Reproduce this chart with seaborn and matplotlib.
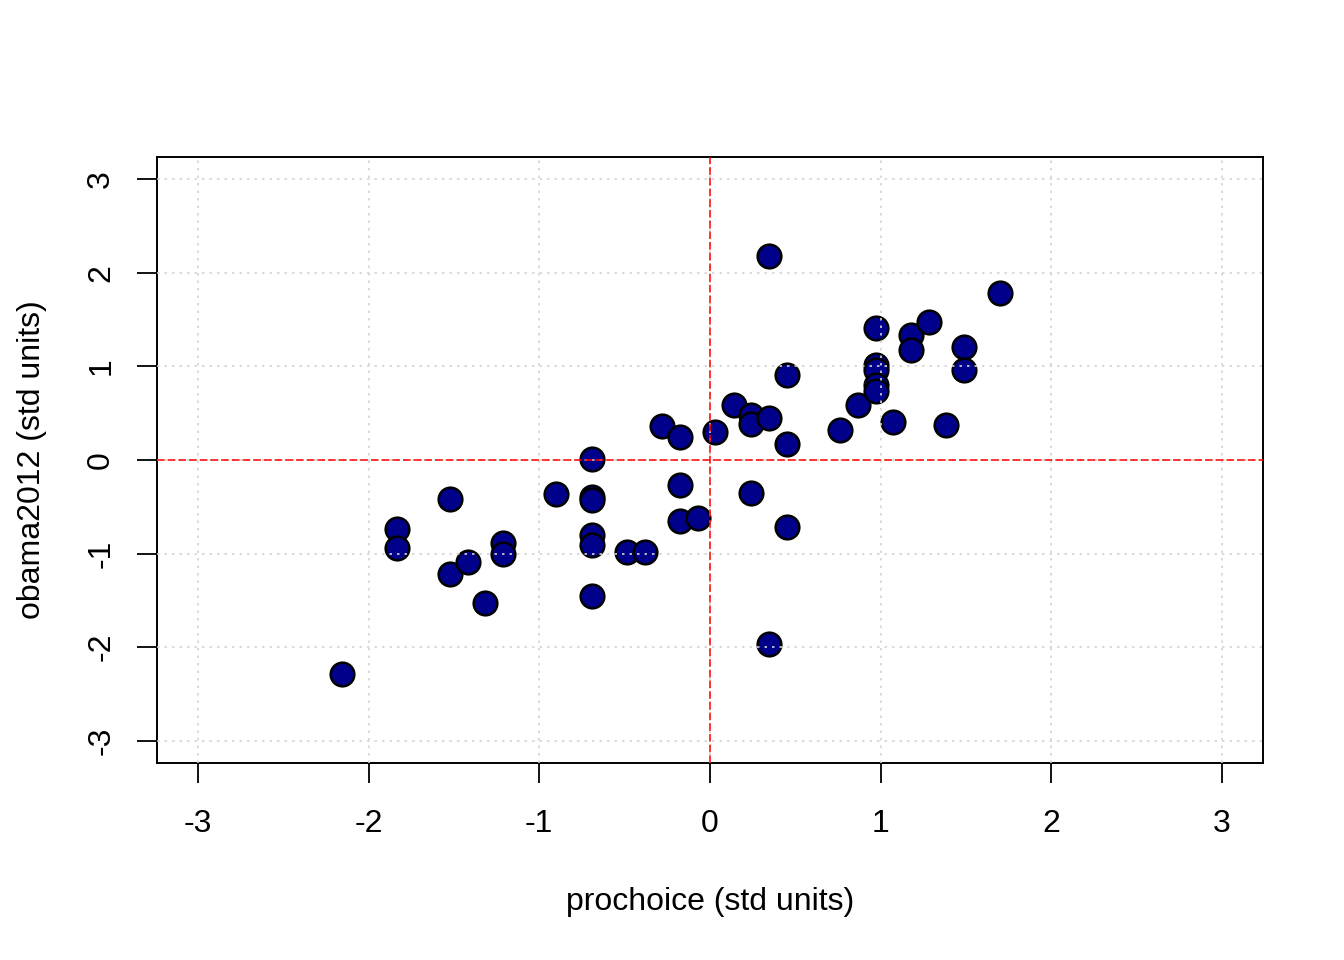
# import the libraries
import pandas as pd
import seaborn as sns
import matplotlib.pyplot as plt

# standardized values
prochoice = [
    -2.156, -1.834, -1.834, -1.523, -1.523, -1.418, -1.318, -1.213, -1.213,
    -0.902, -0.691, -0.691, -0.691, -0.691, -0.691, -0.691, -0.486, -0.381,
    -0.281, -0.176, -0.176, -0.176, -0.070, 0.029, 0.141, 0.240, 0.240,
    0.240, 0.346, 0.346, 0.346, 0.451, 0.451, 0.451, 0.762, 0.867, 0.973,
    0.973, 0.973, 0.973, 0.973, 1.072, 1.178, 1.178, 1.283, 1.383, 1.488,
    1.488, 1.699,
]
obama2012 = [
    -2.285, -0.737, -0.939, -0.416, -1.217, -1.089, -1.527, -0.886, -1.004,
    -0.363, 0.011, -0.395, -0.425, -0.800, -0.907, -1.452, -0.982, -0.982,
    0.363, 0.246, -0.267, -0.651, -0.619, 0.299, 0.587, 0.480, 0.384,
    -0.352, 2.178, 0.448, -1.964, 0.907, 0.171, -0.715, 0.320, 0.587, 1.409,
    1.014, 0.961, 0.800, 0.737, 0.406, 1.334, 1.174, 1.473, 0.374, 1.206,
    0.961, 1.783,
]
ticks = [-3, -2, -1, 0, 1, 2, 3]

df = pd.DataFrame({"prochoice": prochoice, "obama2012": obama2012})

# set the theme, then the font
sns.set_style("white")
plt.rcParams["font.family"] = ["Liberation Sans", "DejaVu Sans"]
plt.rcParams["text.color"] = "black"
plt.rcParams["axes.labelcolor"] = "black"
plt.rcParams["xtick.color"] = "black"
plt.rcParams["ytick.color"] = "black"

fig, ax = plt.subplots(figsize=(13.44, 9.6), dpi=100)
fig.subplots_adjust(left=0.1168, right=0.9397, top=0.8365, bottom=0.2052)

# the points
sns.scatterplot(
    x="prochoice",
    y="obama2012",
    data=df,
    s=290,
    color="#00008B",
    edgecolor="black",
    linewidth=1.8,
    zorder=2,
    ax=ax,
)

# grid drawn over the points, like R's grid()
for t in ticks:
    ax.axvline(t, color="#D3D3D3", lw=1.2, dashes=(1.5, 3), zorder=3)
    ax.axhline(t, color="#D3D3D3", lw=1.2, dashes=(1.5, 3), zorder=3)

# red reference lines at zero
ax.axvline(0, color="red", lw=1.1, dashes=(5, 2), zorder=4)
ax.axhline(0, color="red", lw=1.1, dashes=(5, 2), zorder=4)

ax.set_xlim(-3.24, 3.24)
ax.set_ylim(-3.24, 3.24)
ax.set_xticks(ticks)
ax.set_yticks(ticks)
ax.set_xticklabels([str(t) for t in ticks])
ax.set_yticklabels([str(t) for t in ticks], rotation=90, va="center")

ax.tick_params(axis="both", direction="out", length=14.4, width=1.3,
               color="black", labelcolor="black", labelsize=23,
               left=True, bottom=True)
ax.tick_params(axis="x", pad=19)
ax.tick_params(axis="y", pad=15)

for spine in ax.spines.values():
    spine.set_visible(True)
    spine.set_color("black")
    spine.set_linewidth(1.4)

ax.set_xlabel("prochoice (std units)", fontsize=23, labelpad=34)
ax.set_ylabel("obama2012 (std units)", fontsize=23, labelpad=28)

plt.savefig("out.png", dpi=100)
